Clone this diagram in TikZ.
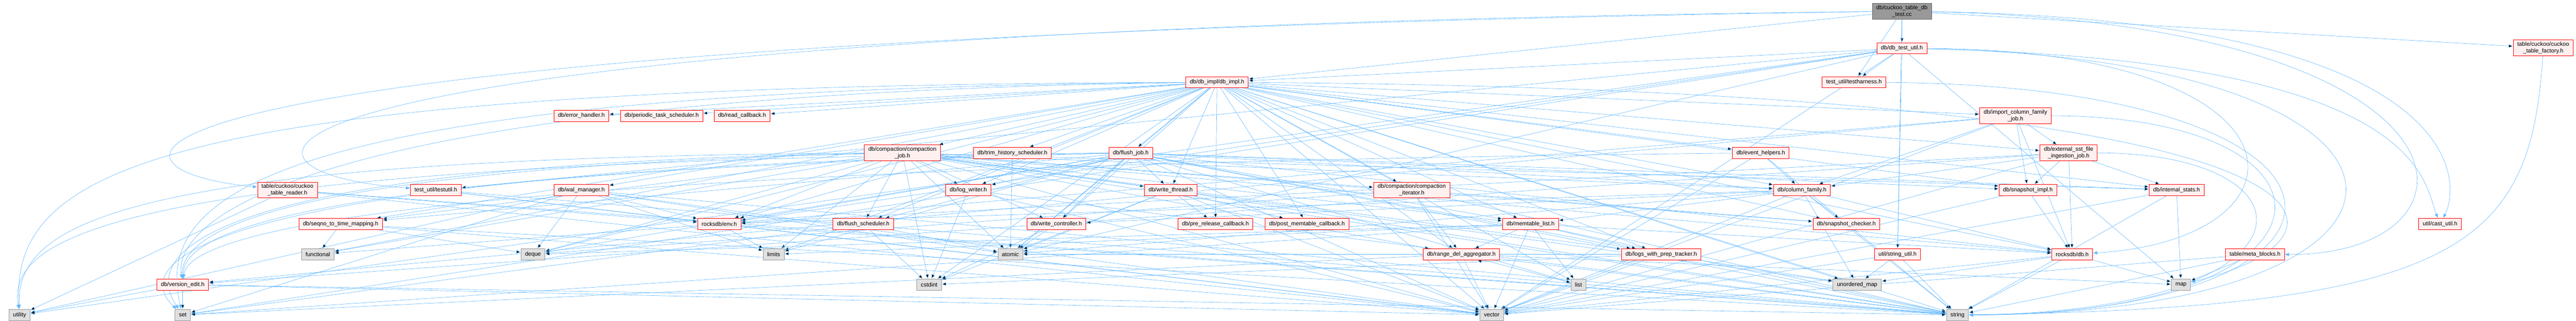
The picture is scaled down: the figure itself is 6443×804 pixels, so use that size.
\documentclass[tikz,border=0pt]{standalone}
\usepackage{fontspec}
\setmainfont{Liberation Sans}
\usetikzlibrary{arrows.meta,backgrounds}

\definecolor{edgeblue}{RGB}{99,184,255}
\definecolor{hdrfill}{RGB}{255,240,240}
\definecolor{sysfill}{RGB}{224,224,224}
\definecolor{sysdraw}{RGB}{153,153,153}
\definecolor{rootfill}{RGB}{153,153,153}
\definecolor{rootdraw}{RGB}{102,102,102}

\begin{document}
\begin{tikzpicture}[x=1pt,y=-1pt,
    every node/.style={font=\fontsize{14.3}{16.5}\selectfont, align=center,
      inner xsep=10pt, inner ysep=5pt, minimum height=28pt, line width=1pt},
    hdr/.style={draw=red, fill=hdrfill},
    sys/.style={draw=sysdraw, fill=sysfill},
    top/.style={draw=rootdraw, fill=rootfill},
    dep/.style={draw=edgeblue, line width=0.8pt, shorten >=1pt,
      -{Triangle[length=10pt,width=8pt]}}]
   \useasboundingbox (0,0) rectangle (6443,804);

   % the file itself
   \node[top] (root) at (4757,28) {db/cuckoo\_table\_db\\\_test.cc};

   % project headers
   \node[hdr] (dbtestutil) at (4757,121) {db/db\_test\_util.h};
   \node[hdr] (factory) at (6361,120) {table/cuckoo/cuckoo\\\_table\_factory.h};
   \node[hdr] (harness) at (4637,206) {test\_util/testharness.h};
   \node[hdr] (dbimpl) at (3044,206) {db/db\_impl/db\_impl.h};
   \node[hdr] (errh) at (1454,290) {db/error\_handler.h};
   \node[hdr] (periodic) at (1655,290) {db/periodic\_task\_scheduler.h};
   \node[hdr] (readcb) at (1856,290) {db/read\_callback.h};
   \node[hdr] (importcf) at (5041,290) {db/import\_column\_family\\\_job.h};
   \node[hdr] (compjob) at (2257,383) {db/compaction/compaction\\\_job.h};
   \node[hdr] (trim) at (2532,383) {db/trim\_history\_scheduler.h};
   \node[hdr] (flushjob) at (2828,383) {db/flush\_job.h};
   \node[hdr] (evhelp) at (4404,383) {db/event\_helpers.h};
   \node[hdr] (extsst) at (5174,383) {db/external\_sst\_file\\\_ingestion\_job.h};
   \node[hdr] (reader) at (719,476) {table/cuckoo/cuckoo\\\_table\_reader.h};
   \node[hdr] (testutil) at (1090,476) {test\_util/testutil.h};
   \node[hdr] (walmgr) at (1454,476) {db/wal\_manager.h};
   \node[hdr] (logwriter) at (2422,476) {db/log\_writer.h};
   \node[hdr] (wthread) at (2928,476) {db/write\_thread.h};
   \node[hdr] (compiter) at (3531,476) {db/compaction/compaction\\\_iterator.h};
   \node[hdr] (cf) at (4507,476) {db/column\_family.h};
   \node[hdr] (snapimpl) at (5072,476) {db/snapshot\_impl.h};
   \node[hdr] (istats) at (5444,476) {db/internal\_stats.h};
   \node[hdr] (seqno) at (852,561) {db/seqno\_to\_time\_mapping.h};
   \node[hdr] (env) at (1799,561) {rocksdb/env.h};
   \node[hdr] (flushsched) at (2159,561) {db/flush\_scheduler.h};
   \node[hdr] (wctrl) at (2642,561) {db/write\_controller.h};
   \node[hdr] (prerel) at (3040,561) {db/pre\_release\_callback.h};
   \node[hdr] (postmem) at (3269,561) {db/post\_memtable\_callback.h};
   \node[hdr] (memlist) at (3828,561) {db/memtable\_list.h};
   \node[hdr] (snapchk) at (4618,561) {db/snapshot\_checker.h};
   \node[hdr] (castutil) at (6103,561) {util/cast\_util.h};
   \node[hdr] (rangedel) at (3655,637) {db/range\_del\_aggregator.h};
   \node[hdr] (logsprep) at (4155,637) {db/logs\_with\_prep\_tracker.h};
   \node[hdr] (strutil) at (4746,637) {util/string\_util.h};
   \node[hdr] (dbh) at (5183,637) {rocksdb/db.h};
   \node[hdr] (meta) at (5640,637) {table/meta\_blocks.h};
   \node[hdr] (versionedit) at (457,713) {db/version\_edit.h};

   % system headers
   \node[sys] (functional) at (795,637) {functional};
   \node[sys] (deque) at (1333,637) {deque};
   \node[sys] (limits) at (1935,637) {limits};
   \node[sys] (atomic) at (2527,637) {atomic};
   \node[sys] (cstdint) at (2324,713) {cstdint};
   \node[sys] (list) at (3948,713) {list};
   \node[sys] (umap) at (4645,713) {unordered\_map};
   \node[sys] (map) at (5455,713) {map};
   \node[sys] (utility) at (49,789) {utility};
   \node[sys] (set) at (457,789) {set};
   \node[sys] (vector) at (3731,789) {vector};
   \node[sys] (string) at (4896,789) {string};

   \begin{scope}[on background layer]
    \path[dep] (root) edge (dbtestutil) edge (harness) edge (strutil)
      edge (dbimpl) edge (factory);
    \draw[dep] (root) .. controls (150,95) and (150,420) .. (reader);
    \draw[dep] (root) .. controls (455,75) and (455,430) .. (testutil);
    \draw[dep] (root) .. controls (6160,50) and (6160,450) .. (castutil);
    \draw[dep] (root) .. controls (6248,60) and (6248,640) .. (meta);
    \path[dep] (dbtestutil) edge (harness) edge (dbimpl) edge (testutil)
      edge (env) edge (set) edge (utility) edge (map) edge (strutil)
      edge (vector) edge (atomic);
    \draw[dep] (dbtestutil) .. controls (6060,150) and (6060,450) .. (castutil);
    \draw[dep] (dbtestutil) .. controls (5804,125) and (5804,600) .. (dbh);
    \draw[dep] (dbtestutil) .. controls (6197,150) and (6197,785) .. (string);
    \draw[dep] (harness) .. controls (6009,215) and (6009,785) .. (string);
    \path[dep] (dbimpl) edge (compjob) edge (trim) edge (flushjob)
      edge (logwriter) edge (wthread) edge (wctrl) edge (flushsched)
      edge (prerel) edge (postmem) edge (compiter) edge (memlist)
      edge (rangedel) edge (list) edge (vector) edge (errh) edge (periodic)
      edge (readcb) edge (walmgr) edge (env) edge (seqno) edge (deque)
      edge (limits) edge (functional) edge (atomic) edge (cstdint)
      edge (string) edge (umap) edge (cf) edge (evhelp)
      edge (extsst) edge (importcf) edge (snapimpl) edge (snapchk)
      edge (istats) edge (logsprep) edge (dbh);
    \draw[dep] (dbimpl) .. controls (400,215) and (25,420) .. (utility);
    \draw[dep] (dbimpl) .. controls (700,225) and (380,480) .. (set);
    \draw[dep] (dbimpl) .. controls (900,235) and (430,520) .. (versionedit);
    \draw[dep] (dbimpl) .. controls (5957,225) and (5957,590) .. (map);
    \path[dep] (compjob) edge (cf) edge (compiter) edge (flushsched)
      edge (istats) edge (logwriter) edge (memlist) edge (rangedel)
      edge (seqno) edge (wctrl) edge (wthread)
      edge (dbh) edge (env) edge (snapchk) edge (atomic) edge (deque)
      edge (functional) edge (limits) edge (string) edge (umap)
      edge (vector) edge (logsprep) edge (cstdint);
    \draw[dep] (compjob) .. controls (300,395) and (40,560) .. (utility);
    \draw[dep] (compjob) .. controls (650,410) and (330,600) .. (set);
    \draw[dep] (compjob) .. controls (800,420) and (450,560) .. (versionedit);
    \path[dep] (trim) edge (atomic);
    \path[dep] (flushjob) edge (cf) edge (flushsched) edge (istats)
      edge (logwriter) edge (logsprep) edge (memlist) edge (seqno)
      edge (snapimpl) edge (wctrl) edge (wthread)
      edge (dbh) edge (env) edge (atomic) edge (deque) edge (limits)
      edge (list) edge (string) edge (vector);
    \draw[dep] (flushjob) .. controls (250,400) and (20,600) .. (utility);
    \draw[dep] (flushjob) .. controls (600,420) and (300,640) .. (set);
    \draw[dep] (flushjob) .. controls (750,430) and (460,580) .. (versionedit);
    \path[dep] (evhelp) edge (cf) edge (string) edge (vector);
    \draw[dep] (evhelp) .. controls (850,420) and (470,600) .. (versionedit);
    \path[dep] (extsst) edge (cf) edge (istats) edge (snapimpl) edge (dbh)
      edge (env) edge (vector) edge (versionedit);
    \draw[dep] (extsst) .. controls (5820,383) and (5820,780) .. (string);
    \path[dep] (importcf) edge (cf) edge (extsst) edge (snapimpl)
      edge (dbh) edge (env) edge (vector) edge (versionedit);
    \draw[dep] (importcf) .. controls (5906,290) and (5906,790) .. (string);
    \path[dep] (reader) edge (utility) edge (vector) edge (string)
      edge (env);
    \path[dep] (testutil) edge (env) edge (string) edge (vector);
    \path[dep] (walmgr) edge (env) edge (deque) edge (limits) edge (set)
      edge (string) edge (utility) edge (vector) edge (atomic);
    \path[dep] (logwriter) edge (cstdint) edge (string) edge (vector);
    \path[dep] (wthread) edge (prerel) edge (postmem) edge (atomic)
      edge (cstdint) edge (vector) edge (string);
    \path[dep] (flushsched) edge (atomic) edge (cstdint) edge (set);
    \path[dep] (wctrl) edge (atomic) edge (cstdint);
    \path[dep] (compiter) edge (rangedel) edge (vector) edge (deque)
      edge (string) edge (snapchk);
    \path[dep] (cf) edge (snapchk) edge (memlist) edge (wctrl) edge (dbh)
      edge (env) edge (atomic) edge (string) edge (umap) edge (vector);
    \path[dep] (memlist) edge (rangedel) edge (logsprep) edge (list)
      edge (vector) edge (string) edge (deque) edge (limits) edge (set)
      edge (dbh);
    \path[dep] (rangedel) edge[out=25,in=-20,min distance=24pt] (rangedel)
      edge (list) edge (map) edge (set) edge (string) edge (vector);
    \path[dep] (logsprep) edge (umap) edge (vector) edge (atomic)
      edge (cstdint);
    \path[dep] (strutil) edge (umap) edge (string) edge (vector);
    \path[dep] (snapimpl) edge (dbh) edge (vector);
    \path[dep] (istats) edge (map) edge (string) edge (vector);
    \path[dep] (dbh) edge (map) edge (string) edge (umap) edge (vector);
    \path[dep] (meta) edge (map) edge (string) edge (vector);
    \path[dep] (env) edge (limits) edge (functional) edge (string)
      edge (vector);
    \path[dep] (seqno) edge (functional) edge (deque) edge (string)
      edge (vector);
    \path[dep] (versionedit) edge (set) edge (utility) edge (string)
      edge (vector);
    \draw[dep] (factory) .. controls (6330,620) and (6150,770) .. (string);
   \end{scope}
\end{tikzpicture}
\end{document}
